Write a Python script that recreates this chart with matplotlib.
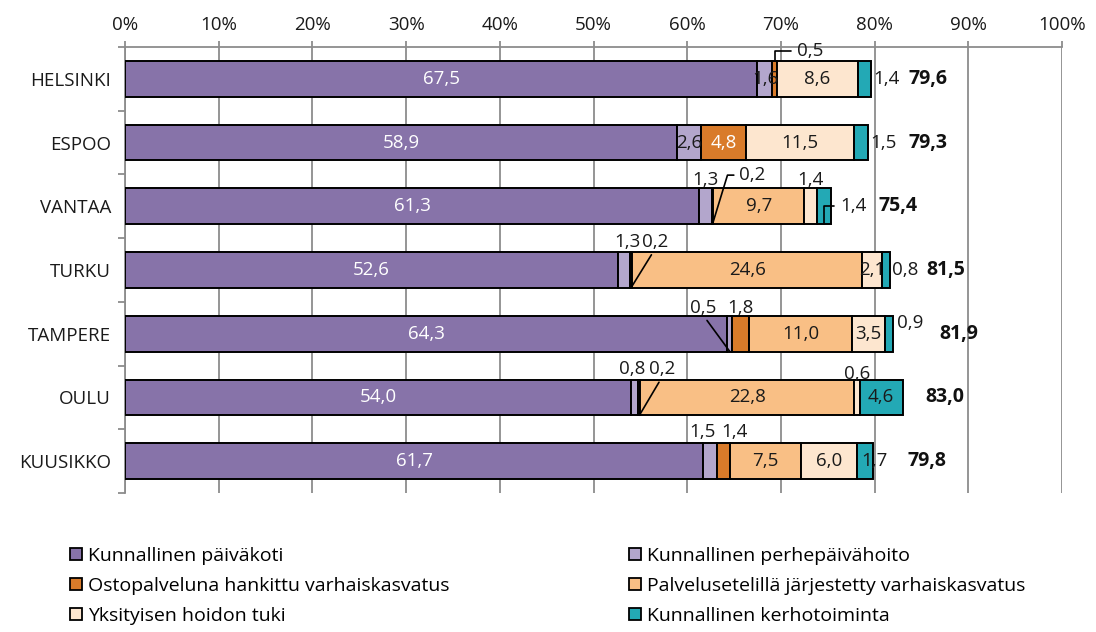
import numpy as np
import matplotlib.pyplot as plt
from matplotlib.patches import Patch

plt.rcParams['font.family'] = ['Open Sans', 'DejaVu Sans']

cities = ["HELSINKI", "ESPOO", "VANTAA", "TURKU", "TAMPERE", "OULU", "KUUSIKKO"]
series_names = [
    "Kunnallinen päiväkoti",
    "Kunnallinen perhepäivähoito",
    "Ostopalveluna hankittu varhaiskasvatus",
    "Palvelusetelillä järjestetty varhaiskasvatus",
    "Yksityisen hoidon tuki",
    "Kunnallinen kerhotoiminta",
]
paivakoti = [67.5, 58.9, 61.3, 52.6, 64.3, 54.0, 61.7]
perhepaivahoito = [1.6, 2.6, 1.3, 1.3, 0.5, 0.8, 1.5]
ostopalvelu = [0.5, 4.8, 0.2, 0.2, 1.8, 0.2, 1.4]
palveluseteli = [0.0, 0.0, 9.7, 24.6, 11.0, 22.8, 7.5]
yksityinen = [8.6, 11.5, 1.4, 2.1, 3.5, 0.6, 6.0]
kerhotoiminta = [1.4, 1.5, 1.4, 0.8, 0.9, 4.6, 1.7]
totals = [79.6, 79.3, 75.4, 81.5, 81.9, 83.0, 79.8]

series = [paivakoti, perhepaivahoito, ostopalvelu, palveluseteli, yksityinen, kerhotoiminta]
colors = ["#8773A9", "#B3A6CC", "#D97B2A", "#F9BF85", "#FDE6CF", "#23A9B5"]

# label placement tweaks: (row, series) -> (kind, dx, dy) in pixels
special = {
    (0, 2): ("elbow_top", 35, 10),
    (0, 5): ("end", 2, 0),
    (1, 5): ("end", 2, 0),
    (2, 1): ("off", 0, 26),
    (2, 2): ("slant", 40, 49),
    (2, 4): ("off", 0, 26),
    (2, 5): ("elbow_bot", 29, 18),
    (3, 1): ("off", 3, 28),
    (3, 2): ("line", 24, 46),
    (3, 5): ("end", 2, 0),
    (4, 1): ("line", -27, 44),
    (4, 2): ("off", 0, 26),
    (4, 5): ("end", 4, 11),
    (5, 1): ("off", -3, 28),
    (5, 2): ("line", 23, 46),
    (5, 4): ("off", 0, 23),
    (6, 1): ("off", -8, 29),
    (6, 2): ("off", 11, 29),
    (6, 5): ("off", 10, 0),
}
total_pad = [57, 60, 67, 56, 65, 42, 54]

fig = plt.figure(figsize=(10.96, 6.32), dpi=100)
ax = fig.add_axes([125 / 1096, 1 - 493 / 632, 937 / 1096, 446 / 632])

y = np.arange(len(cities))
h = 0.56
grid_col = "#8C8C8C"
fs = 13.5

left = np.zeros(len(cities))
for s, vals in enumerate(series):
    vals = np.array(vals)
    ax.barh(y, vals, left=left, height=h, color=colors[s], edgecolor="black",
            linewidth=1.4, zorder=3)
    for i, v in enumerate(vals):
        if v == 0:
            continue
        mid = left[i] + v / 2
        txt = f"{v:.1f}".replace(".", ",")
        kind, dx, dy = special.get((i, s), ("center", 0, 0))
        if kind == "center":
            col = "white" if s in (0, 2) else "#1a1a1a"
            ax.annotate(txt, (mid, i), ha="center", va="center", fontsize=fs,
                        color=col, zorder=5)
        elif kind == "off":
            ax.annotate(txt, (mid, i), xytext=(dx, dy), textcoords="offset pixels",
                        ha="center", va="center", fontsize=fs, color="#1a1a1a", zorder=5)
        elif kind == "end":
            end = left[i] + v
            ax.annotate(txt, (end, i), xytext=(dx, dy), textcoords="offset pixels",
                        ha="left", va="center", fontsize=fs, color="#1a1a1a", zorder=5)
        else:
            if kind == "elbow_top":
                yy = i - h / 2
            else:
                yy = i + h / 2
            if kind == "line":
                ap = dict(arrowstyle="-", color="black", lw=1.2, relpos=(0.5, 0.1),
                          shrinkA=1, shrinkB=0)
            elif kind == "slant":
                ap = dict(arrowstyle="-", color="black", lw=1.2, relpos=(0, 0.5),
                          shrinkA=2, shrinkB=0,
                          connectionstyle="angle,angleA=0,angleB=73,rad=0")
            else:
                ap = dict(arrowstyle="-", color="black", lw=1.2, relpos=(0, 0.5),
                          shrinkA=2, shrinkB=0,
                          connectionstyle="angle,angleA=0,angleB=90,rad=0")
            ax.annotate(txt, (mid, yy), xytext=(dx, dy), textcoords="offset pixels",
                        ha="center", va="center", fontsize=fs, color="#1a1a1a",
                        arrowprops=ap, zorder=5)
    left += vals

for i, t in enumerate(totals):
    ax.annotate(f"{t:.1f}".replace(".", ","), (left[i], i), xytext=(total_pad[i], 0),
                textcoords="offset pixels", ha="center", va="center",
                fontsize=14, fontweight="bold", color="#111111")

ax.set_xlim(0, 100)
ax.set_ylim(len(cities) - 0.5, -0.5)
ax.xaxis.tick_top()
ax.set_xticks(np.arange(0, 101, 10))
ax.set_xticklabels([f"{v}%" for v in range(0, 101, 10)], fontsize=13.5, color="#1a1a1a")
ax.tick_params(axis="x", direction="out", length=4, width=1.3, color=grid_col, pad=5)
ax.xaxis.grid(True, color=grid_col, linewidth=1.3, zorder=0)
ax.set_axisbelow(True)

ax.set_yticks(y)
ax.set_yticklabels(cities, fontsize=13.5, color="#1a1a1a")
ax.tick_params(axis="y", length=0, pad=10)
ax.set_yticks(np.arange(-0.5, len(cities), 1), minor=True)
ax.tick_params(axis="y", which="minor", direction="out", length=5, width=1.3, color=grid_col)

for side in ["right", "bottom"]:
    ax.spines[side].set_visible(False)
for side in ["top", "left"]:
    ax.spines[side].set_color(grid_col)
    ax.spines[side].set_linewidth(1.3)

# two legend columns placed separately
handles = [Patch(facecolor=c, edgecolor="black", linewidth=1.3) for c in colors]
leg_kw = dict(loc="upper left", frameon=False, fontsize=14, borderpad=0,
              handlelength=0.65, handleheight=0.62, handletextpad=0.3,
              labelspacing=0.62)
for col_x, idx in [(60, [0, 2, 4]), (619, [1, 3, 5])]:
    fig.legend([handles[k] for k in idx], [series_names[k] for k in idx],
               bbox_to_anchor=(col_x / 1096, 1 - 537 / 632), **leg_kw)

fig.savefig("out.png", dpi=100)
